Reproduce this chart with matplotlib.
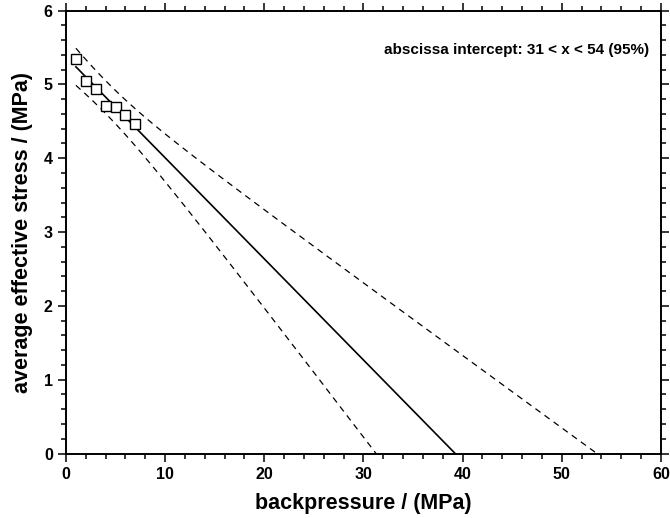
import numpy as np
import matplotlib
matplotlib.use("Agg")
import matplotlib.pyplot as plt
from matplotlib.ticker import MultipleLocator

# Measured points
backpressure = [1, 2, 3, 4, 5, 6, 7]
effective_stress = [5.35, 5.05, 4.94, 4.71, 4.70, 4.58, 4.465]

# Student t for 95 % two-sided, n - 2 = 5 degrees of freedom
t_95 = 2.571
annotation = "abscissa intercept: 31 < x < 54 (95%)"

plt.rcParams["font.family"] = ["Liberation Sans", "DejaVu Sans"]
plt.rcParams["font.weight"] = "bold"

x = np.asarray(backpressure, float)
y = np.asarray(effective_stress, float)
n = len(x)
slope, icept = np.polyfit(x, y, 1)
resid = y - (icept + slope * x)
s = np.sqrt(np.sum(resid ** 2) / (n - 2))
xbar = x.mean()
sxx = np.sum((x - xbar) ** 2)

# Regression line with 95 % prediction band
xx = np.linspace(x[0], 60, 20000)
fit = icept + slope * xx
half = t_95 * s * np.sqrt(1 + 1 / n + (xx - xbar) ** 2 / sxx)
upper = fit + half
lower = fit - half

fig = plt.figure(figsize=(6.7, 5.18), dpi=100)
ax = fig.add_axes([0.0985, 0.1245, 0.888, 0.855])

m = fit >= 0
ax.plot(xx[m], fit[m], color="black", lw=1.2)
for band in (upper, lower):
    mb = band >= 0
    ax.plot(xx[mb], band[mb], color="black", lw=0.9, ls=(0, (5, 4)))

ax.plot(x, y, ls="none", marker="s", ms=6.5, mfc="white", mec="black", mew=1.0)

ax.set_xlim(0, 60)
ax.set_ylim(0, 6)
ax.xaxis.set_major_locator(MultipleLocator(10))
ax.xaxis.set_minor_locator(MultipleLocator(2))
ax.yaxis.set_major_locator(MultipleLocator(1))
ax.yaxis.set_minor_locator(MultipleLocator(0.2))
ax.tick_params(which="both", direction="out", top=True, right=True,
               width=1.1, labelsize=11.5)
ax.tick_params(which="major", length=6)
ax.tick_params(which="minor", length=3.5)
for sp in ax.spines.values():
    sp.set_linewidth(1.4)
for lab in ax.get_xticklabels() + ax.get_yticklabels():
    lab.set_fontweight("bold")

ax.set_xlabel("backpressure / (MPa)", fontsize=15.5, fontweight="bold", labelpad=8)
ax.set_ylabel("average effective stress / (MPa)", fontsize=15.5, fontweight="bold", labelpad=8)

ax.text(0.98, 0.911, annotation, transform=ax.transAxes, ha="right", va="center",
        fontsize=11, fontweight="bold")

fig.savefig("out.png", dpi=100)
